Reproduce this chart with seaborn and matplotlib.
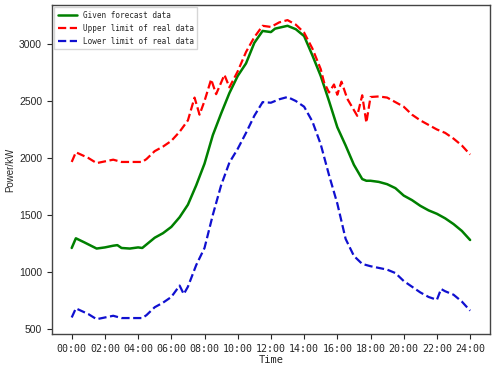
import numpy as np
import pandas as pd
import matplotlib
matplotlib.use("Agg")
import matplotlib.pyplot as plt
import seaborn as sns

# forecast curve (hour, kW)
hours_forecast = [0, 0.25, 0.75, 1.5, 2, 2.5, 2.75, 3, 3.5, 4, 4.25, 4.5, 5, 5.5, 6, 6.5, 7, 7.5,
                  8, 8.5, 9, 9.5, 10, 10.5, 11, 11.5, 12, 12.25, 13, 13.5, 14, 14.5, 15, 15.5,
                  16, 16.5, 17, 17.5, 17.75, 18, 18.5, 19, 19.5, 20, 20.5, 21, 21.5, 22, 22.5,
                  23, 23.5, 24]
power_forecast = [1210, 1295, 1260, 1205, 1215, 1230, 1235, 1210, 1205, 1215, 1210, 1240, 1300,
                  1340, 1395, 1480, 1590, 1760, 1950, 2200, 2390, 2570, 2720, 2830, 3010, 3115,
                  3105, 3135, 3160, 3130, 3070, 2900, 2720, 2500, 2270, 2110, 1940, 1815, 1800,
                  1800, 1790, 1770, 1735, 1670, 1630, 1580, 1540, 1510, 1470, 1420, 1360, 1280]

# upper limit of real data
hours_upper = [0, 0.25, 1, 1.5, 2, 2.5, 3, 3.5, 4.25, 4.5, 5, 5.5, 6, 6.5, 7, 7.4, 7.7, 8, 8.4,
               8.7, 9.2, 9.5, 10, 10.5, 11, 11.5, 12, 12.5, 13, 13.5, 14, 14.5, 15, 15.2, 15.5,
               15.8, 16.0, 16.25, 16.6, 17.2, 17.5, 17.75, 18, 18.5, 19, 19.5, 20, 20.5, 21, 21.5,
               22, 22.5, 23, 23.5, 24]
power_upper = [1965, 2050, 2000, 1955, 1970, 1985, 1965, 1965, 1965, 1990, 2060, 2100, 2150, 2230,
               2330, 2530, 2380, 2500, 2690, 2560, 2730, 2620, 2760, 2930, 3060, 3160, 3150, 3190,
               3210, 3170, 3100, 2960, 2780, 2665, 2575, 2645, 2555, 2670, 2520, 2370, 2550, 2310,
               2535, 2540, 2530, 2490, 2450, 2380, 2330, 2290, 2250, 2220, 2170, 2110, 2030]

# lower limit of real data
hours_lower = [0, 0.25, 1, 1.5, 2, 2.5, 3, 3.5, 4.25, 4.5, 5, 5.5, 6, 6.5, 6.75, 7, 7.5, 8, 8.5,
               9, 9.5, 10, 10.5, 11, 11.5, 12, 12.5, 13, 13.5, 14, 14.5, 15, 15.5, 16, 16.5, 17,
               17.5, 18, 18.5, 19, 19.5, 20, 20.5, 21, 21.5, 22, 22.25, 22.5, 23, 23.5, 24]
power_lower = [600, 680, 630, 585, 600, 615, 595, 595, 595, 620, 690, 730, 780, 880, 805, 870,
               1060, 1210, 1500, 1760, 1960, 2080, 2220, 2370, 2490, 2485, 2515, 2535, 2500, 2450,
               2320, 2120, 1850, 1600, 1290, 1140, 1070, 1050, 1035, 1020, 990, 920, 870, 820,
               780, 755, 850, 830, 800, 740, 660]

tick_hours = list(range(0, 25, 2))
tick_labels = ["%02d:00" % h for h in tick_hours]

sns.set_style("ticks")
mono = "DejaVu Sans Mono"
sans = "Liberation Sans"

fig = plt.figure(figsize=(4.98, 3.68), dpi=100)
ax = fig.add_axes([0.104, 0.092, 0.88, 0.894])

sns.lineplot(x=hours_forecast, y=power_forecast, ax=ax, color="green", linewidth=1.8,
             label="Given forecast data")
sns.lineplot(x=hours_upper, y=power_upper, ax=ax, color="red", linewidth=1.6,
             linestyle="--", label="Upper limit of real data")
sns.lineplot(x=hours_lower, y=power_lower, ax=ax, color="#1010d0", linewidth=1.6,
             linestyle="--", label="Lower limit of real data")

ax.set_xticks(tick_hours)
ax.set_xticklabels(tick_labels, family=mono, fontsize=7.2)
ax.set_yticks([500, 1000, 1500, 2000, 2500, 3000])
ax.set_yticklabels(["500", "1000", "1500", "2000", "2500", "3000"], family=sans, fontsize=7.5)
ax.tick_params(length=3.5, width=0.8)
ax.set_xlabel("Time", family=mono, fontsize=7.5, labelpad=1)
ax.set_ylabel("Power/kW", family=sans, fontsize=7, labelpad=3)
for s in ax.spines.values():
    s.set_color("#444444")
    s.set_linewidth(1.0)

leg = ax.legend(loc="upper left", prop={"family": mono, "size": 5.5}, frameon=True,
                fancybox=False, edgecolor="#cccccc", handlelength=2.5, handletextpad=0.8,
                borderpad=0.45, labelspacing=0.5, borderaxespad=0.3)

fig.savefig("out.png", dpi=100)
